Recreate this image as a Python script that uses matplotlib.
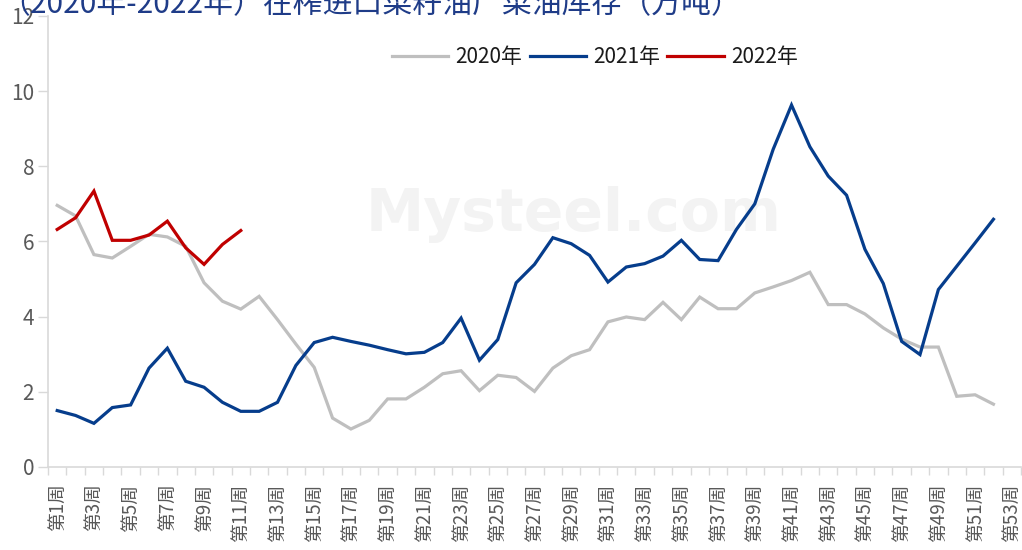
import numpy as np
import matplotlib
matplotlib.use("Agg")
import matplotlib.pyplot as plt
from matplotlib.ticker import FixedLocator, MultipleLocator

plt.rcParams["font.family"] = ["Noto Sans CJK SC", "DejaVu Sans"]

TITLE = "（2020年-2022年）在榨进口菜籽油厂菜油库存（万吨）"
N_WEEKS = 53
week_labels = [f"第{w}周" for w in range(1, N_WEEKS + 1)]

v2020 = [6.96, 6.68, 5.65, 5.56, 5.87, 6.19, 6.12, 5.87, 4.90, 4.41, 4.20, 4.54,
         3.92, 3.27, 2.65, 1.30, 1.01, 1.24, 1.81, 1.81, 2.12, 2.48, 2.56, 2.03,
         2.44, 2.38, 2.01, 2.63, 2.96, 3.12, 3.86, 3.99, 3.92, 4.38, 3.92,
         4.52, 4.21, 4.21, 4.63, 4.79, 4.96, 5.18, 4.32, 4.32, 4.07, 3.70, 3.40,
         3.19, 3.19, 1.88, 1.92, 1.67]
v2021 = [1.50, 1.37, 1.16, 1.58, 1.65, 2.63, 3.16, 2.28, 2.12, 1.72, 1.48, 1.48,
         1.72, 2.70, 3.31, 3.45, 3.34, 3.24, 3.12, 3.01, 3.05, 3.31, 3.96, 2.84,
         3.39, 4.90, 5.39, 6.10, 5.94, 5.63, 4.92, 5.32, 5.41, 5.61, 6.03,
         5.52, 5.49, 6.32, 7.00, 8.45, 9.63, 8.52, 7.74, 7.23, 5.79, 4.88, 3.34,
         2.99, 4.72, 5.34, 5.96, 6.59]
v2022 = [6.32, 6.63, 7.34, 6.03, 6.03, 6.17, 6.54, 5.83, 5.39, 5.92, 6.29]

series = [("2020年", v2020, "#BFBFBF"),
          ("2021年", v2021, "#063D8C"),
          ("2022年", v2022, "#C00000")]

AXIS = "#D9D9D9"
TICK = "#595959"

fig = plt.figure(figsize=(10.22, 5.5), dpi=100)
ax = fig.add_axes([0.047, 0.151, 0.952, 0.820])

# faint watermark
ax.text(0.54, 0.56, "Mysteel.com", transform=ax.transAxes, ha="center", va="center",
        fontsize=42, fontweight="bold", color="#F3F3F3", zorder=0, family="DejaVu Sans")

for name, vals, col in series:
    x = np.arange(1, len(vals) + 1)
    ax.plot(x, vals, color=col, lw=2.3, label=name, solid_joinstyle="miter", zorder=3)

ax.set_xlim(0.5, N_WEEKS + 0.5)
ax.set_ylim(0, 12)
ax.yaxis.set_major_locator(MultipleLocator(2))

odd = list(range(1, N_WEEKS + 1, 2))
ax.xaxis.set_major_locator(FixedLocator(odd))
ax.set_xticklabels([week_labels[i - 1] for i in odd], rotation=90, fontsize=13.5, color=TICK)
ax.xaxis.set_minor_locator(FixedLocator(np.arange(0.5, N_WEEKS + 1, 1)))
ax.tick_params(axis="x", which="major", length=0, pad=12)
ax.tick_params(axis="x", which="minor", length=6, color=AXIS, width=1)
ax.tick_params(axis="y", length=7, color=AXIS, width=1, labelsize=15, labelcolor=TICK, pad=3)

for s in ("top", "right"):
    ax.spines[s].set_visible(False)
for s in ("left", "bottom"):
    ax.spines[s].set_color(AXIS)
    ax.spines[s].set_linewidth(1.2)

ax.legend(loc="center", bbox_to_anchor=(0.562, 0.908), ncol=3, frameon=False,
          fontsize=15, handlelength=2.7, columnspacing=0.35, handletextpad=0.35,
          labelcolor="#1A1A1A")

fig.text(0.0, 1 - 13 / 550, TITLE, ha="left", va="baseline", fontsize=21.5, color="#1F3C88")

fig.savefig("out.png", dpi=100, facecolor="white")
